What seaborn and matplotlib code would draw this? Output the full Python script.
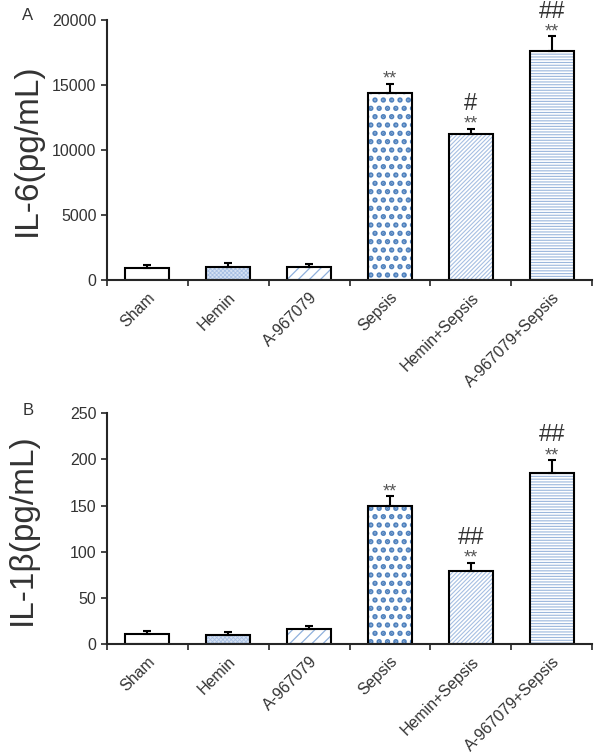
"""IL-6 and IL-1beta levels per treatment group (two stacked bar panels)."""
import matplotlib
matplotlib.use("Agg")
import matplotlib.pyplot as plt
import numpy as np
import seaborn as sns

groups = ["Sham", "Hemin", "A-967079", "Sepsis", "Hemin+Sepsis", "A-967079+Sepsis"]

il6_mean = [900, 1000, 1000, 14350, 11200, 17650]
il6_err = [250, 280, 250, 750, 450, 1080]
il6_star = ["", "", "", "**", "**", "**"]
il6_hash = ["", "", "", "", "#", "##"]

il1b_mean = [11, 10, 16, 149, 79, 185]
il1b_err = [3, 3, 4, 11, 9, 14]
il1b_star = ["", "", "", "**", "**", "**"]
il1b_hash = ["", "", "", "", "##", "##"]

# per-bar fill / hatch styling
fills = ["white", "#d6e2f3", "white", "white", "white", "white"]
hatches = ["", "xxxxxxxx", "///", "..", "////////", "------"]
hatch_colors = ["white", "#a9c1e4", "#8fb0dc", "#4f81bd", "#a6bfe2", "#9bb7dd"]
hatch_widths = [0.6, 0.6, 0.9, 2.6, 0.8, 0.8]

sns.set_style("ticks")
plt.rcParams["font.family"] = ["Liberation Sans", "DejaVu Sans"]
text_col = "#333333"


def draw_panel(ax, means, errs, stars, hashes, ymax, yticks, ylabel, label_x):
    x = np.arange(len(groups))
    # layer 1: fills + hatches (hatch colour follows edge colour)
    sns.barplot(x=groups, y=means, ax=ax, color="white", width=0.55,
                errorbar=None, linewidth=0)
    for p, fc, h, hc, hw in zip(ax.patches, fills, hatches, hatch_colors, hatch_widths):
        p.set_facecolor(fc)
        p.set_edgecolor(hc)
        p.set_linewidth(0)
        if h:
            p.set_hatch(h)
            if hasattr(p, "set_hatch_linewidth"):
                p.set_hatch_linewidth(hw)
            else:
                p._hatch_linewidth = hw
    # layer 2: black outlines
    sns.barplot(x=groups, y=means, ax=ax, fill=False, width=0.55,
                errorbar=None, edgecolor="black", linewidth=1.5)
    ax.errorbar(x, means, yerr=[np.zeros(len(errs)), errs], fmt="none",
                ecolor="black", elinewidth=1.5, capsize=3, capthick=1.5, zorder=5)

    for xi, m, e, s, hs in zip(x, means, errs, stars, hashes):
        top = m + e
        if s:
            ax.annotate(s, (xi, top), xytext=(0, -3), textcoords="offset points",
                        ha="center", va="bottom", fontsize=13, color="#555555",
                        annotation_clip=False)
        if hs:
            ax.annotate(hs, (xi, top), xytext=(0, 10), textcoords="offset points",
                        ha="center", va="bottom", fontsize=17, color=text_col,
                        annotation_clip=False)

    ax.set_xlim(-0.5, len(groups) - 0.5)
    ax.set_ylim(0, ymax)
    ax.set_yticks(yticks)
    ax.set_xticks(x)
    ax.set_xticks(np.arange(len(groups) + 1) - 0.5, minor=True)
    ax.tick_params(axis="x", which="major", length=0, pad=7)
    ax.tick_params(axis="x", which="minor", length=4, width=1.2, direction="out")
    ax.tick_params(axis="y", length=4, width=1.2, labelsize=11.5, labelcolor=text_col)
    ax.set_xticklabels(groups, rotation=45, ha="right", rotation_mode="anchor",
                       fontsize=11.5, color=text_col)
    for side in ["left", "bottom"]:
        ax.spines[side].set_linewidth(1.5)
    sns.despine(ax=ax)
    ax.set_xlabel("")
    ax.set_ylabel(ylabel, fontsize=24, color=text_col)
    ax.yaxis.set_label_coords(label_x, 0.5)


fig = plt.figure(figsize=(6, 7.56), dpi=100)
ax_a = fig.add_axes([0.178, 0.6296, 0.809, 0.344])
ax_b = fig.add_axes([0.178, 0.148, 0.809, 0.3055])

draw_panel(ax_a, il6_mean, il6_err, il6_star, il6_hash, 20000,
           [0, 5000, 10000, 15000, 20000], "IL-6(pg/mL)", -0.132)
draw_panel(ax_b, il1b_mean, il1b_err, il1b_star, il1b_hash, 250,
           [0, 50, 100, 150, 200, 250], "IL-1β(pg/mL)", -0.142)

fig.text(22 / 600, 1 - 15 / 756, "A", fontsize=12, color=text_col, va="center")
fig.text(23 / 600, 1 - 411 / 756, "B", fontsize=12, color=text_col, va="center")

fig.savefig("out.png", dpi=100)
